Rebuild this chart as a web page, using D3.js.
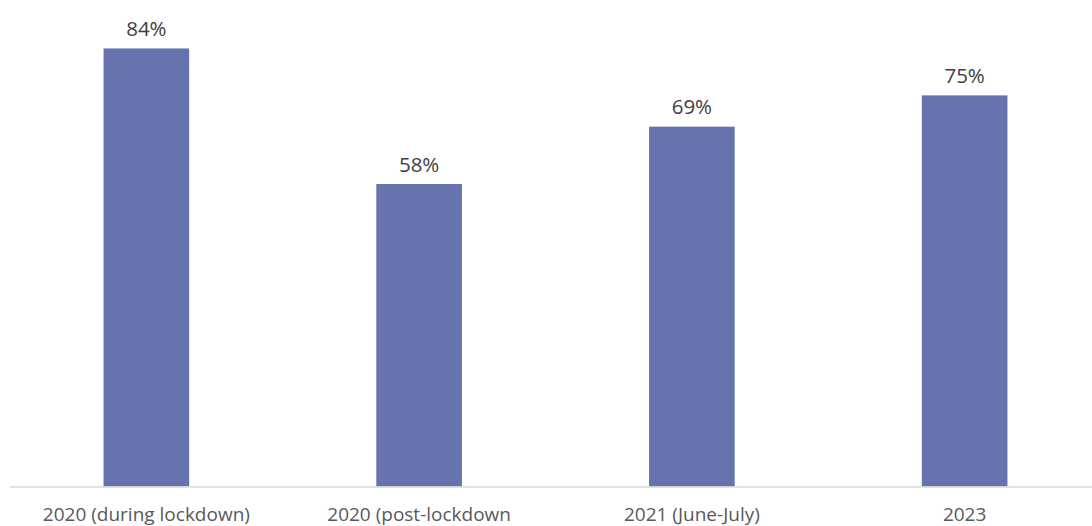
<!DOCTYPE html>
<html>
<head>
<meta charset="utf-8">
<script src="https://cdn.jsdelivr.net/npm/d3@7"></script>
<style>
  html, body { margin: 0; padding: 0; background: #ffffff; }
  svg { display: block; }
</style>
</head>
<body>
<svg id="chart" width="1092" height="526"></svg>
<script>
const categories = ["2020 (during lockdown)", "2020 (post-lockdown", "2021 (June-July)", "2023"];
const values = [84, 58, 69, 75];
const valueLabels = ["84%", "58%", "69%", "75%"];

const width = 1092, height = 526;
const baseline = 486.5;
const svg = d3.select("#chart");

const x = d3.scaleBand()
  .domain(categories)
  .range([10, 1101])
  .paddingInner(0.686)
  .paddingOuter(0.343);

const y = d3.scaleLinear()
  .domain([0, 100])
  .range([baseline, baseline - 521.5]);

// bars
svg.append("g")
  .selectAll("rect")
  .data(values)
  .join("rect")
  .attr("x", (d, i) => x(categories[i]))
  .attr("y", d => y(d))
  .attr("width", x.bandwidth())
  .attr("height", d => y(0) - y(d))
  .attr("fill", "#6673ae");

// category axis
const axis = svg.append("g")
  .attr("transform", `translate(0,${baseline + 0.5})`)
  .call(d3.axisBottom(x).tickSize(0).tickPadding(21));
axis.select(".domain").attr("stroke", "#d9d9d9").attr("stroke-width", 1.5)
  .attr("d", "M10,0H1092");
axis.selectAll("text")
  .attr("fill", "#595959")
  .attr("font-family", "'Open Sans', sans-serif")
  .attr("font-size", 19);

// value labels
svg.append("g")
  .selectAll("text")
  .data(values)
  .join("text")
  .attr("x", (d, i) => x(categories[i]) + x.bandwidth() / 2)
  .attr("y", d => y(d) - 12.5)
  .attr("text-anchor", "middle")
  .attr("fill", "#404040")
  .attr("font-family", "'Open Sans', sans-serif")
  .attr("font-size", 20.5)
  .text((d, i) => valueLabels[i]);
</script>
</body>
</html>
